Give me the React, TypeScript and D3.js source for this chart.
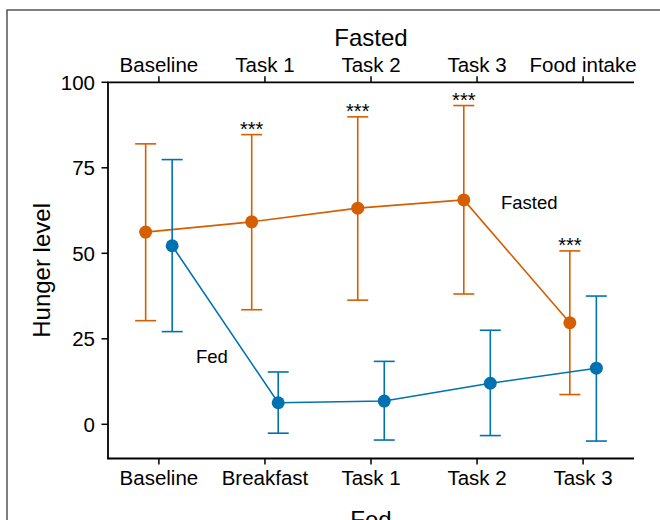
import React from "react";
import * as d3 from "d3";

const fastedCats = ["Baseline", "Task 1", "Task 2", "Task 3", "Food intake"];
const fedCats = ["Baseline", "Breakfast", "Task 1", "Task 2", "Task 3"];
const fastedMean = [56.2, 59.2, 63.2, 65.6, 29.7];
const fastedUpper = [82.0, 84.7, 89.9, 93.2, 50.7];
const fastedLower = [30.3, 33.5, 36.3, 38.1, 8.7];
const fedMean = [52.2, 6.3, 6.8, 12.0, 16.4];
const fedUpper = [77.4, 15.3, 18.4, 27.5, 37.5];
const fedLower = [27.1, -2.6, -4.6, -3.3, -4.9];
const significance = ["", "***", "***", "***", "***"];
const yTicks = [0, 25, 50, 75, 100];

const ORANGE = "#d55e00";
const BLUE = "#0072b2";
const FONT = "'Liberation Sans', Arial, sans-serif";

export default function App() {
  const x = d3.scaleLinear().domain([-0.48, 4.48]).range([108, 634]);
  const y = d3.scaleLinear().domain([-10, 100]).range([458.5, 82.3]);
  const off = 0.125;
  const capW = 10.5;

  const series = [
    { mean: fastedMean, up: fastedUpper, lo: fastedLower, color: ORANGE, dx: -off },
    { mean: fedMean, up: fedUpper, lo: fedLower, color: BLUE, dx: off },
  ];

  return (
    <svg
      width={660}
      height={520}
      style={{ position: "absolute", left: 0, top: 0, background: "#fff" }}
      fontFamily={FONT}
    >
      <rect x={7} y={10} width={700} height={600} fill="#fff" stroke="#555" strokeWidth={1.5} />

      {/* axes */}
      <line x1={108} x2={108} y1={y(100)} y2={y(-10)} stroke="#000" strokeWidth={1.8} />
      <line x1={107.1} x2={634} y1={y(100)} y2={y(100)} stroke="#000" strokeWidth={1.8} />
      <line x1={107.1} x2={634} y1={y(-10)} y2={y(-10)} stroke="#000" strokeWidth={1.8} />

      {yTicks.map((t) => (
        <g key={"y" + t}>
          <line x1={101.5} x2={108} y1={y(t)} y2={y(t)} stroke="#000" strokeWidth={1.5} />
          <text x={95} y={y(t)} dy="0.36em" textAnchor="end" fontSize={20.5} fill="#000">
            {t}
          </text>
        </g>
      ))}

      {fedCats.map((c, i) => (
        <g key={"b" + i}>
          <line x1={x(i)} x2={x(i)} y1={y(-10)} y2={y(-10) + 6} stroke="#000" strokeWidth={1.5} />
          <text x={x(i)} y={485} textAnchor="middle" fontSize={20.5} fill="#000">
            {c}
          </text>
        </g>
      ))}
      {fastedCats.map((c, i) => (
        <g key={"t" + i}>
          <line x1={x(i)} x2={x(i)} y1={y(100)} y2={y(100) - 6} stroke="#000" strokeWidth={1.5} />
          <text x={x(i)} y={71.7} textAnchor="middle" fontSize={20.5} fill="#000">
            {c}
          </text>
        </g>
      ))}

      <text x={371} y={45.5} textAnchor="middle" fontSize={24} fill="#000">
        Fasted
      </text>
      <text x={371} y={528} textAnchor="middle" fontSize={24} fill="#000">
        Fed
      </text>
      <text
        transform={`translate(50,${(y(100) + y(-10)) / 2}) rotate(-90)`}
        textAnchor="middle"
        fontSize={24}
        fill="#000"
      >
        Hunger level
      </text>

      {series.map((s, si) => {
        const path = d3
          .line<number>()
          .x((_, i) => x(i + s.dx))
          .y((d) => y(d))(s.mean);
        return (
          <g key={"s" + si}>
            {s.mean.map((m, i) => (
              <g key={i} stroke={s.color} strokeWidth={1.6}>
                <line x1={x(i + s.dx)} x2={x(i + s.dx)} y1={y(s.up[i])} y2={y(s.lo[i])} />
                <line x1={x(i + s.dx) - capW} x2={x(i + s.dx) + capW} y1={y(s.up[i])} y2={y(s.up[i])} />
                <line x1={x(i + s.dx) - capW} x2={x(i + s.dx) + capW} y1={y(s.lo[i])} y2={y(s.lo[i])} />
              </g>
            ))}
            <path d={path || ""} fill="none" stroke={s.color} strokeWidth={1.6} />
            {s.mean.map((m, i) => (
              <circle key={"c" + i} cx={x(i + s.dx)} cy={y(m)} r={6.5} fill={s.color} />
            ))}
          </g>
        );
      })}

      {significance.map((sg, i) =>
        sg ? (
          <text key={"sig" + i} x={x(i - off)} y={y(fastedUpper[i]) + 1} textAnchor="middle" fontSize={20} fill="#000">
            {sg}
          </text>
        ) : null
      )}

      <text x={501} y={209} fontSize={18.5} fill="#000">
        Fasted
      </text>
      <text x={196} y={363} fontSize={18.5} fill="#000">
        Fed
      </text>
    </svg>
  );
}
